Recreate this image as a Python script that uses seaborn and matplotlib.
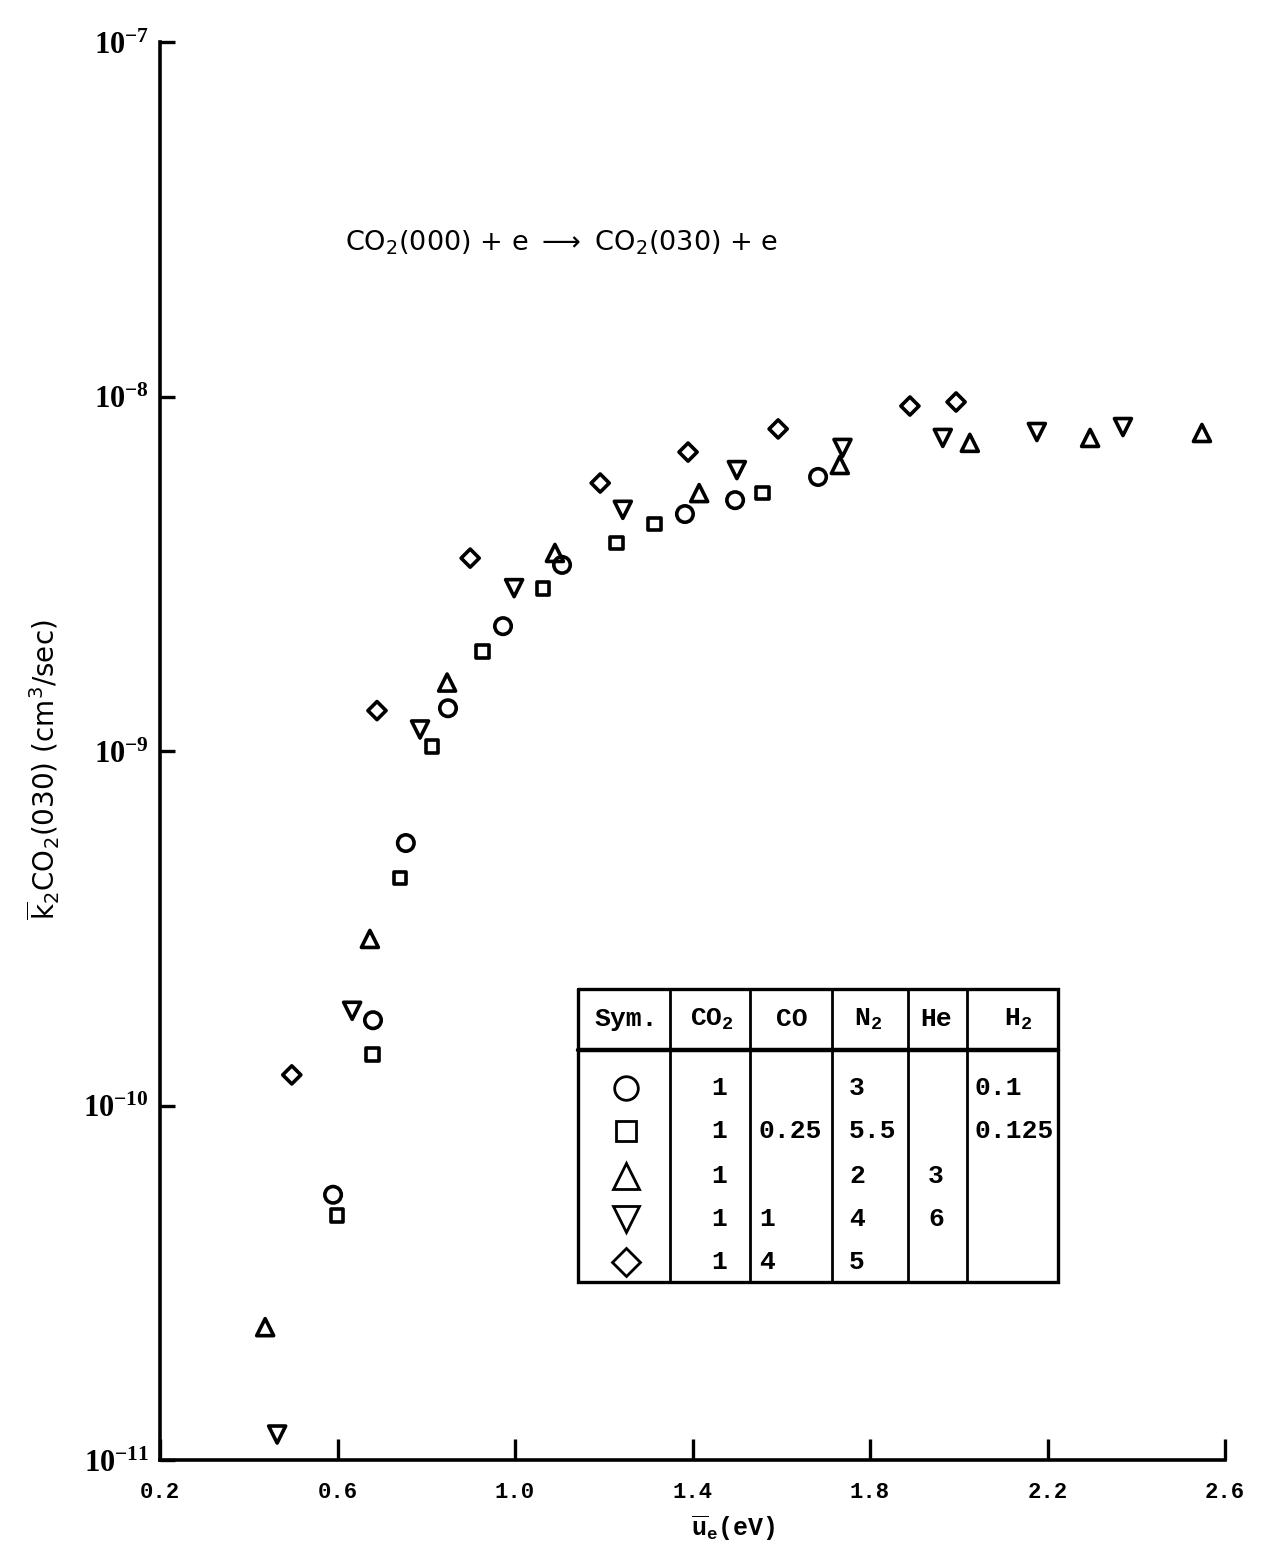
import numpy as np
import pandas as pd
import matplotlib
matplotlib.use("Agg")
import matplotlib.pyplot as plt
import seaborn as sns
from matplotlib.ticker import FixedLocator, NullLocator, FuncFormatter

# --- measured rate coefficients, one series per gas mixture ---
u_circle = [0.590, 0.680, 0.754, 0.849, 0.973, 1.106, 1.383, 1.496, 1.683]
k_circle = [5.6e-11, 1.74e-10, 5.5e-10, 1.32e-9, 2.25e-9, 3.35e-9, 4.66e-9, 5.1e-9, 5.93e-9]

u_square = [0.599, 0.678, 0.741, 0.813, 0.926, 1.063, 1.228, 1.315, 1.557]
k_square = [4.9e-11, 1.39e-10, 4.38e-10, 1.03e-9, 1.91e-9, 2.88e-9, 3.86e-9, 4.37e-9, 5.34e-9]

u_tri_up = [0.437, 0.673, 0.847, 1.090, 1.415, 1.732, 2.025, 2.296, 2.548]
k_tri_up = [2.37e-11, 2.95e-10, 1.56e-9, 3.62e-9, 5.34e-9, 6.41e-9, 7.4e-9, 7.64e-9, 7.89e-9]

u_tri_down = [0.464, 0.633, 0.786, 0.998, 1.243, 1.500, 1.738, 1.964, 2.176, 2.370]
k_tri_down = [1.18e-11, 1.85e-10, 1.15e-9, 2.88e-9, 4.79e-9, 6.2e-9, 7.16e-9, 7.64e-9, 7.94e-9, 8.2e-9]

u_diamond = [0.497, 0.689, 0.899, 1.192, 1.390, 1.593, 1.890, 1.994]
k_diamond = [1.22e-10, 1.30e-9, 3.5e-9, 5.7e-9, 6.97e-9, 8.1e-9, 9.4e-9, 9.65e-9]

# --- axis ticks ---
x_ticks = [0.2, 0.6, 1.0, 1.4, 1.8, 2.2, 2.6]
x_tick_labels = ["0.2", "0.6", "1.0", "1.4", "1.8", "2.2", "2.6"]
y_ticks = [1e-11, 1e-10, 1e-9, 1e-8, 1e-7]

# --- gas mixture composition table ---
table_header = ["Sym.", r"CO$_\mathsf{2}$", "CO", r"N$_\mathsf{2}$", "He", r"H$_\mathsf{2}$"]
mix_co2 = ["1", "1", "1", "1", "1"]
mix_co = ["", "0.25", "", "1", "4"]
mix_n2 = ["3", "5.5", "2", "4", "5"]
mix_he = ["", "", "3", "6", ""]
mix_h2 = ["0.1", "0.125", "", "", ""]

series = [
    ("o", u_circle, k_circle, 140),
    ("s", u_square, k_square, 85),
    ("^", u_tri_up, k_tri_up, 150),
    ("v", u_tri_down, k_tri_down, 150),
    ("D", u_diamond, k_diamond, 85),
]

sns.set_theme(style="ticks")
plt.rcParams["font.family"] = ["DejaVu Sans"]
plt.rcParams["text.color"] = "black"
plt.rcParams["axes.labelcolor"] = "black"
plt.rcParams["mathtext.fontset"] = "custom"
plt.rcParams["mathtext.rm"] = "DejaVu Sans"
plt.rcParams["mathtext.it"] = "DejaVu Sans:italic"
plt.rcParams["mathtext.bf"] = "Liberation Serif:bold"
plt.rcParams["mathtext.sf"] = "Liberation Mono:bold"

W, H = 1268, 1555
fig = plt.figure(figsize=(W / 100, H / 100), dpi=100)
fig.patch.set_facecolor("white")
ax = fig.add_axes([160 / W, 1 - 1460 / H, (1225 - 160) / W, (1460 - 42) / H])
ax.set_facecolor("white")

for marker, u, k, size in series:
    df = pd.DataFrame({"u": u, "k": k})
    sns.scatterplot(data=df, x="u", y="k", marker=marker, s=size, ax=ax,
                    color="black", legend=False, zorder=3)
for coll in ax.collections:
    coll.set_facecolor("none")
    coll.set_edgecolor("black")
    coll.set_linewidth(2.6)

ax.set_yscale("log")
ax.set_xlim(0.2, 2.6)
ax.set_ylim(1e-11, 1e-7)
ax.xaxis.set_major_locator(FixedLocator(x_ticks))
ax.set_xticklabels(x_tick_labels)
ax.yaxis.set_major_locator(FixedLocator(y_ticks))
ax.yaxis.set_minor_locator(NullLocator())
ax.yaxis.set_major_formatter(FuncFormatter(
    lambda v, p: r"$\mathbf{10^{%d}}$" % int(round(np.log10(v)))))

for side in ("top", "right"):
    ax.spines[side].set_visible(False)
for side in ("left", "bottom"):
    ax.spines[side].set_linewidth(2.6)
    ax.spines[side].set_color("black")

ax.tick_params(axis="x", direction="in", length=15, width=2.4, pad=16,
               labelsize=16, colors="black")
ax.tick_params(axis="y", direction="in", length=11, width=2.4, pad=8,
               labelsize=22, colors="black")
for lab in ax.get_xticklabels():
    lab.set_fontfamily("Liberation Mono")
    lab.set_fontweight("bold")

ax.set_xlabel(r"$\overline{\mathsf{u}}_{\mathsf{e}}$(eV)", fontsize=18,
              fontfamily="Liberation Mono", fontweight="bold")
ax.xaxis.set_label_coords((733 - 160) / 1065, -(1514 - 1460) / 1418)
ax.set_ylabel(r"$\overline{\mathrm{k}}_2$CO$_2$(030) (cm$^3$/sec)", fontsize=20)
ax.yaxis.set_label_coords(-(160 - 62) / 1065, (1460 - 770) / 1418)
ax.grid(False)

fig.text(345 / W, 1 - 243 / H,
         r"CO$_2$(000) + e $\longrightarrow$ CO$_2$(030) + e",
         fontsize=19.5, ha="left", va="center", color="black")

# --- composition table drawn in its own axes (pixel-like units) ---
tx0, ty0, tw, th = 578, 989, 480, 293
tab = fig.add_axes([tx0 / W, 1 - (ty0 + th) / H, tw / W, th / H])
tab.set_xlim(0, tw)
tab.set_ylim(th, 0)
tab.axis("off")

col_edges = [0, 92, 172, 254, 330, 389, 480]
header_y = 61
tab.plot([0, tw, tw, 0, 0], [0, 0, th, th, 0], color="black", lw=2.4,
         solid_joinstyle="miter", clip_on=False)
for xe in col_edges[1:-1]:
    tab.plot([xe, xe], [0, th], color="black", lw=2.0, clip_on=False)
tab.plot([0, tw], [header_y, header_y], color="black", lw=3.2, clip_on=False)

tfont = dict(fontfamily="Liberation Mono", fontweight="bold", fontsize=19,
             color="black", va="center")
header_x = [48, 134, 214, 290, 358, 440]
for xh, txt in zip(header_x, table_header):
    tab.text(xh, 30, txt, ha="center", **tfont)

row_y = [99, 142, 187, 230, 273]
key_markers = [("o", 17), ("s", 15), ("^", 19), ("v", 19), ("D", 14)]
for yr, (mk, ms) in zip(row_y, key_markers):
    tab.plot([48], [yr], marker=mk, ms=ms, mfc="none", mec="black", mew=2.0,
             ls="none", clip_on=False)
for yr, a, b, c, d, e in zip(row_y, mix_co2, mix_co, mix_n2, mix_he, mix_h2):
    tab.text(141, yr, a, ha="center", **tfont)
    tab.text(181, yr, b, ha="left", **tfont)
    tab.text(271, yr, c, ha="left", **tfont)
    tab.text(358, yr, d, ha="center", **tfont)
    tab.text(397, yr, e, ha="left", **tfont)

fig.savefig("out.png", dpi=100, facecolor="white")
